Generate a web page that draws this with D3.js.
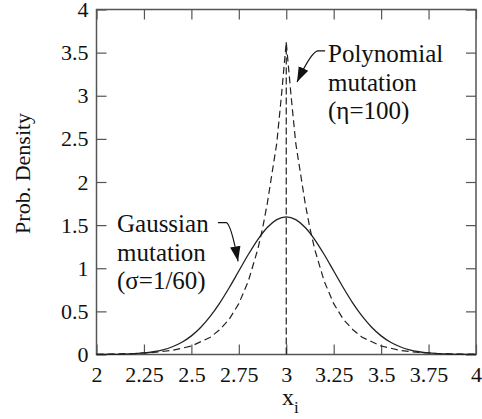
<!DOCTYPE html>
<html>
<head>
<meta charset="utf-8">
<script src="https://cdn.jsdelivr.net/npm/d3@7"></script>
<style>
  body { margin: 0; background: #fff; }
  svg { display: block; }
</style>
</head>
<body>
<div id="chart"></div>
<script>
// Values
const xTicks = [2, 2.25, 2.5, 2.75, 3, 3.25, 3.5, 3.75, 4];
const yTicks = [0, 0.5, 1, 1.5, 2, 2.5, 3, 3.5, 4];

// Gaussian mutation (solid)
const gaussX = [2.00, 2.10, 2.20, 2.25, 2.30, 2.35, 2.40, 2.45, 2.50, 2.55, 2.60, 2.65, 2.70, 2.75, 2.80, 2.85, 2.90, 2.95,
                3.00,
                3.05, 3.10, 3.15, 3.20, 3.25, 3.30, 3.35, 3.40, 3.45, 3.50, 3.55, 3.60, 3.65, 3.70, 3.75, 3.80, 3.90, 4.00];
const gaussY = [0.001, 0.002, 0.010, 0.018, 0.032, 0.054, 0.090, 0.142, 0.216, 0.316, 0.444, 0.599, 0.777, 0.968, 1.159, 1.333, 1.473, 1.564,
                1.596,
                1.564, 1.473, 1.333, 1.159, 0.968, 0.777, 0.599, 0.444, 0.316, 0.216, 0.142, 0.090, 0.054, 0.032, 0.018, 0.010, 0.002, 0.001];

// Polynomial mutation (dashed)
const polyX = [2.00, 2.20, 2.30, 2.40, 2.50, 2.60, 2.65, 2.70, 2.75, 2.80, 2.85, 2.875, 2.90, 2.925, 2.95, 2.975,
               3.00,
               3.025, 3.05, 3.075, 3.10, 3.125, 3.15, 3.20, 3.25, 3.30, 3.35, 3.40, 3.50, 3.60, 3.70, 3.80, 4.00];
const polyY = [0.003, 0.011, 0.023, 0.048, 0.098, 0.20, 0.29, 0.41, 0.59, 0.85, 1.22, 1.46, 1.75, 2.10, 2.45, 3.01,
               3.62,
               3.01, 2.45, 2.10, 1.75, 1.46, 1.22, 0.85, 0.59, 0.41, 0.29, 0.20, 0.098, 0.048, 0.023, 0.011, 0.003];

const SERIF = '"Liberation Serif", "Times New Roman", serif';

const width = 482, height = 419;
const margin = { top: 9.5, right: 6, bottom: 64.5, left: 96.5 };
const innerW = width - margin.left - margin.right;
const innerH = height - margin.top - margin.bottom;

const svg = d3.select("#chart").append("svg")
    .attr("width", width)
    .attr("height", height)
    .attr("font-family", SERIF);

const g = svg.append("g")
    .attr("transform", `translate(${margin.left},${margin.top})`);

const x = d3.scaleLinear().domain([2, 4]).range([0, innerW]);
const y = d3.scaleLinear().domain([0, 4]).range([innerH, 0]);

const axisColor = "#555";
const tickLen = 10;

// Axes with inward ticks on all four sides
function styleAxis(sel) {
    sel.attr("font-family", SERIF);
    sel.select(".domain").remove();
    sel.selectAll(".tick line").attr("stroke", axisColor).attr("stroke-width", 1.2);
    sel.selectAll(".tick text")
        .attr("fill", "#111")
        .attr("font-size", 22);
}

g.append("g")
    .attr("transform", `translate(0,${innerH})`)
    .call(d3.axisBottom(x).tickValues(xTicks).tickFormat(d3.format("")).tickSizeInner(-tickLen).tickSizeOuter(0).tickPadding(12))
    .call(styleAxis);

g.append("g")
    .call(d3.axisTop(x).tickValues(xTicks).tickFormat("").tickSizeInner(-tickLen).tickSizeOuter(0))
    .call(styleAxis);

g.append("g")
    .call(d3.axisLeft(y).tickValues(yTicks).tickFormat(d3.format("")).tickSizeInner(-tickLen).tickSizeOuter(0).tickPadding(8))
    .call(styleAxis);

g.append("g")
    .attr("transform", `translate(${innerW},0)`)
    .call(d3.axisRight(y).tickValues(yTicks).tickFormat("").tickSizeInner(-tickLen).tickSizeOuter(0))
    .call(styleAxis);

// Frame
g.append("rect")
    .attr("width", innerW)
    .attr("height", innerH)
    .attr("fill", "none")
    .attr("stroke", axisColor)
    .attr("stroke-width", 1.5);

// Curves
const gaussData = gaussX.map((v, i) => [v, gaussY[i]]);
const polyData = polyX.map((v, i) => [v, polyY[i]]);

g.append("path")
    .datum(gaussData)
    .attr("fill", "none")
    .attr("stroke", "#222")
    .attr("stroke-width", 1.3)
    .attr("d", d3.line().x(d => x(d[0])).y(d => y(d[1])).curve(d3.curveMonotoneX));

g.append("path")
    .datum(polyData)
    .attr("fill", "none")
    .attr("stroke", "#222")
    .attr("stroke-width", 1.2)
    .attr("stroke-dasharray", "7,4")
    .attr("d", d3.line().x(d => x(d[0])).y(d => y(d[1])));

// Vertical dashed line at the mean
const peak = d3.max(polyY);
g.append("line")
    .attr("x1", x(3)).attr("x2", x(3))
    .attr("y1", y(0)).attr("y2", y(peak))
    .attr("stroke", "#222")
    .attr("stroke-width", 1.2)
    .attr("stroke-dasharray", "7,3");

// Annotations
function label(lines, ax, ay) {
    const t = g.append("text")
        .attr("x", x(ax))
        .attr("y", y(ay))
        .attr("fill", "#111")
        .attr("font-size", 25);
    lines.forEach((s, i) => {
        t.append("tspan").attr("x", x(ax)).attr("dy", i === 0 ? 0 : 28.5).text(s);
    });
}

label(["Polynomial", "mutation", "(η=100)"], 3.22, 3.39);
label(["Gaussian", "mutation", "(σ=1/60)"], 2.108, 1.42);

svg.append("defs").append("marker")
    .attr("id", "head")
    .attr("viewBox", "0 0 10 10")
    .attr("refX", 10).attr("refY", 5)
    .attr("markerWidth", 15).attr("markerHeight", 15)
    .attr("markerUnits", "userSpaceOnUse")
    .attr("orient", "auto")
    .append("path")
    .attr("d", "M0,1.5 L10,5 L0,8.5 Z")
    .attr("fill", "#111");

function arrow(p0, p1, c, tip) {
    const P = p => [x(p[0]), y(p[1])];
    const a = P(p0), b = P(p1), cc = P(c), t = P(tip);
    g.append("path")
        .attr("d", `M${a[0]},${a[1]} L${b[0]},${b[1]} Q${cc[0]},${cc[1]} ${t[0]},${t[1]}`)
        .attr("fill", "none")
        .attr("stroke", "#111")
        .attr("stroke-width", 1.2)
        .attr("marker-end", "url(#head)");
}

arrow([3.205, 3.52], [3.165, 3.52], [3.13, 3.50], [3.057, 3.16]);
arrow([2.64, 1.53], [2.685, 1.53], [2.71, 1.50], [2.746, 1.08]);

// Axis titles
svg.append("text")
    .attr("transform", `translate(${30},${margin.top + y(2.1)}) rotate(-90)`)
    .attr("text-anchor", "middle")
    .attr("fill", "#111")
    .attr("font-size", 22)
    .text("Prob. Density");

const xl = svg.append("text")
    .attr("x", margin.left + x(3) + 4)
    .attr("y", 405)
    .attr("text-anchor", "middle")
    .attr("fill", "#111")
    .attr("font-size", 24);
xl.append("tspan").text("x");
xl.append("tspan").attr("dy", 8).attr("font-size", 17).text("i");
</script>
</body>
</html>
